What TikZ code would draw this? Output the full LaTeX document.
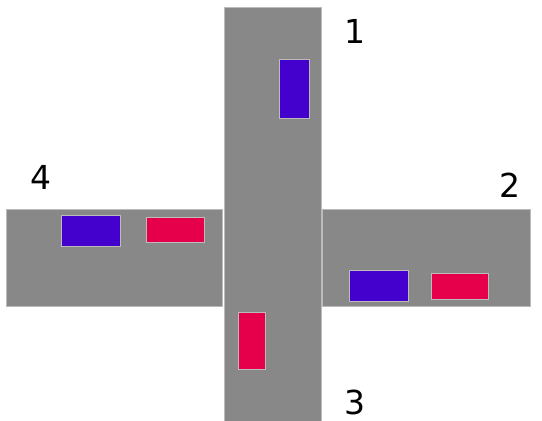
\documentclass[tikz,border=0pt]{standalone}
\usepackage{fontspec}
\setmainfont{DejaVu Sans}
\definecolor{road}{HTML}{888888}
\definecolor{edge}{HTML}{BBBBBB}
\definecolor{carblue}{HTML}{4400CC}
\definecolor{carred}{HTML}{E6004C}
\tikzset{
  roadpart/.style={fill=road, draw=edge, line width=1pt},
  bluecar/.style={fill=carblue, draw=edge, line width=0.8pt},
  redcar/.style={fill=carred, draw=edge, line width=0.8pt},
  lbl/.style={font=\fontsize{33}{36}\selectfont, text=black, inner sep=0pt}
}
\begin{document}
\begin{tikzpicture}[x=1pt,y=-1pt]
\useasboundingbox (0,0) rectangle (542,421);
% roads
\path[roadpart] (6,209) rectangle (222,306);
\path[roadpart] (322,209) rectangle (530,306);
\path[roadpart] (224,7) rectangle (321,425);
% cars
\path[bluecar] (279,59) rectangle (309,118);
\path[bluecar] (61,215) rectangle (120,246);
\path[redcar] (146,217) rectangle (204,242);
\path[bluecar] (349,270) rectangle (408,301);
\path[redcar] (431,273) rectangle (488,299);
\path[redcar] (238,312) rectangle (265,369);
% labels
\node[lbl] (l1) at (355,31) {1};
\node[lbl] (l2) at (510,185) {2};
\node[lbl] (l3) at (355,402) {3};
\node[lbl] (l4) at (41,177) {4};
\end{tikzpicture}
\end{document}
